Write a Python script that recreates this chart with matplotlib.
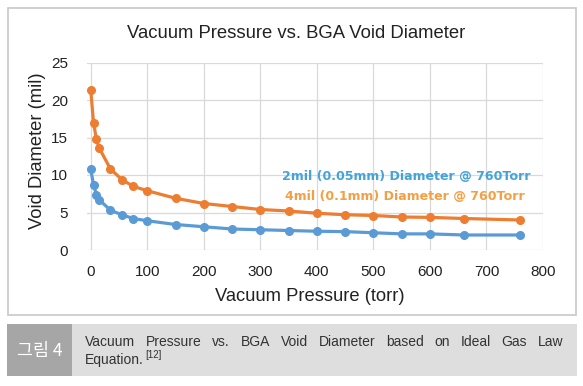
import matplotlib
matplotlib.use("Agg")
import matplotlib.pyplot as plt
from matplotlib.patches import Rectangle
from matplotlib import font_manager

pressure = [0, 5, 10, 15, 35, 55, 75, 100, 150, 200, 250, 300, 350, 400, 450, 500, 550, 600, 660, 760]
dia_2mil = [10.8, 8.7, 7.4, 6.7, 5.3, 4.7, 4.2, 3.9, 3.4, 3.1, 2.8, 2.7, 2.6, 2.5, 2.45, 2.3, 2.15, 2.15, 2.0, 2.0]
dia_4mil = [21.4, 17.0, 14.8, 13.6, 10.8, 9.4, 8.5, 7.9, 6.9, 6.2, 5.8, 5.4, 5.2, 4.9, 4.7, 4.6, 4.4, 4.35, 4.2, 4.0]
xticks = [0, 100, 200, 300, 400, 500, 600, 700, 800]
yticks = [0, 5, 10, 15, 20, 25]
label_2mil = "2mil (0.05mm) Diameter @ 760Torr"
label_4mil = "4mil (0.1mm) Diameter @ 760Torr"
title = "Vacuum Pressure vs. BGA Void Diameter"
xlabel = "Vacuum Pressure (torr)"
ylabel = "Void Diameter (mil)"
cap_tag = "그림 4"
cap_line1 = "Vacuum Pressure vs. BGA Void Diameter based on Ideal Gas Law"
cap_line2 = "Equation."
cap_ref = "[12]"

installed = {f.name for f in font_manager.fontManager.ttflist}
cap_family = "Liberation Sans Narrow" if "Liberation Sans Narrow" in installed else "Liberation Sans"
cap_size = 12 if cap_family == "Liberation Sans Narrow" else 10

W, H = 583, 386
fig = plt.figure(figsize=(W / 100, H / 100), dpi=100)
fig.patch.set_facecolor("white")

def fx(px):
    return px / W

def fy(py):
    return 1 - py / H

# chart border
fig.patches.append(Rectangle((fx(7.5), fy(315)), fx(576) - fx(7.5), fy(7.5) - fy(315),
                             transform=fig.transFigure, fill=False, edgecolor="#c8c8c8", lw=1.2))

ax = fig.add_axes([fx(87.3), fy(250), fx(543) - fx(87.3), fy(62.5) - fy(250)])
ax.plot(pressure, dia_4mil, color="#ED7D31", lw=2.3, marker="o", ms=5.5, zorder=3)
ax.plot(pressure, dia_2mil, color="#5B9BD5", lw=2.3, marker="o", ms=5.5, zorder=3)
ax.set_xlim(-6, 800)
ax.set_ylim(0, 25)
ax.set_xticks(xticks)
ax.set_yticks(yticks)
ax.grid(True, color="#d9d9d9", lw=0.9)
ax.set_axisbelow(True)
for s in ax.spines.values():
    s.set_visible(False)
ax.tick_params(length=0, labelsize=11, colors="#222222")
ax.tick_params(axis="y", pad=14)
ax.tick_params(axis="x", pad=11)
for lab in ax.get_xticklabels() + ax.get_yticklabels():
    lab.set_fontfamily("Liberation Sans")

fig.text(fx(296), fy(33), title, ha="center", va="center", fontsize=13.3,
         family="Liberation Sans", color="#222222")
fig.text(fx(310), fy(296.5), xlabel, ha="center", va="center", fontsize=13.2,
         family="Liberation Sans", color="#222222")
fig.text(fx(38), fy(150.5), ylabel, ha="center", va="center", fontsize=13.2,
         family="Liberation Sans", color="#222222", rotation=90)

fig.text(fx(406.7), fy(176), label_2mil, ha="center", va="center", fontsize=9.1,
         weight="bold", family="DejaVu Sans", color="#45A3D9")
fig.text(fx(405), fy(196.7), label_4mil, ha="center", va="center", fontsize=9.1,
         weight="bold", family="DejaVu Sans", color="#F3A045")

# caption box
fig.patches.append(Rectangle((fx(7.3), fy(376)), fx(577) - fx(7.3), fy(324) - fy(376),
                             transform=fig.transFigure, facecolor="#dedede", edgecolor="none"))
fig.patches.append(Rectangle((fx(7.3), fy(376)), fx(71.7) - fx(7.3), fy(324) - fy(376),
                             transform=fig.transFigure, facecolor="#a6a6a6", edgecolor="none"))
fig.text(fx(40), fy(351), cap_tag, ha="center", va="center", fontsize=12.5,
         family=["Noto Sans CJK KR", "DejaVu Sans"], color="white")

# justified caption line 1
cap_font = dict(fontsize=cap_size, family=cap_family, color="#333333")
fig.canvas.draw()
renderer = fig.canvas.get_renderer()
words = cap_line1.split(" ")
x0, x1 = 85.0, 563.0
widths = []
tmp = []
for w in words:
    t = fig.text(0, 0, w, **cap_font)
    bb = t.get_window_extent(renderer)
    widths.append(bb.width)
    tmp.append(t)
for t in tmp:
    t.remove()
gap = (x1 - x0 - sum(widths)) / (len(words) - 1)
x = x0
for w, wd in zip(words, widths):
    fig.text(fx(x), fy(341.5), w, ha="left", va="center", **cap_font)
    x += wd + gap
t2 = fig.text(fx(85), fy(360), cap_line2, ha="left", va="center", **cap_font)
bb2 = t2.get_window_extent(renderer)
fig.text(fx(85 + bb2.width + 1), fy(354.5), cap_ref, ha="left", va="center",
         fontsize=7, family=cap_family, color="#333333")

fig.savefig("out.png", dpi=100)
